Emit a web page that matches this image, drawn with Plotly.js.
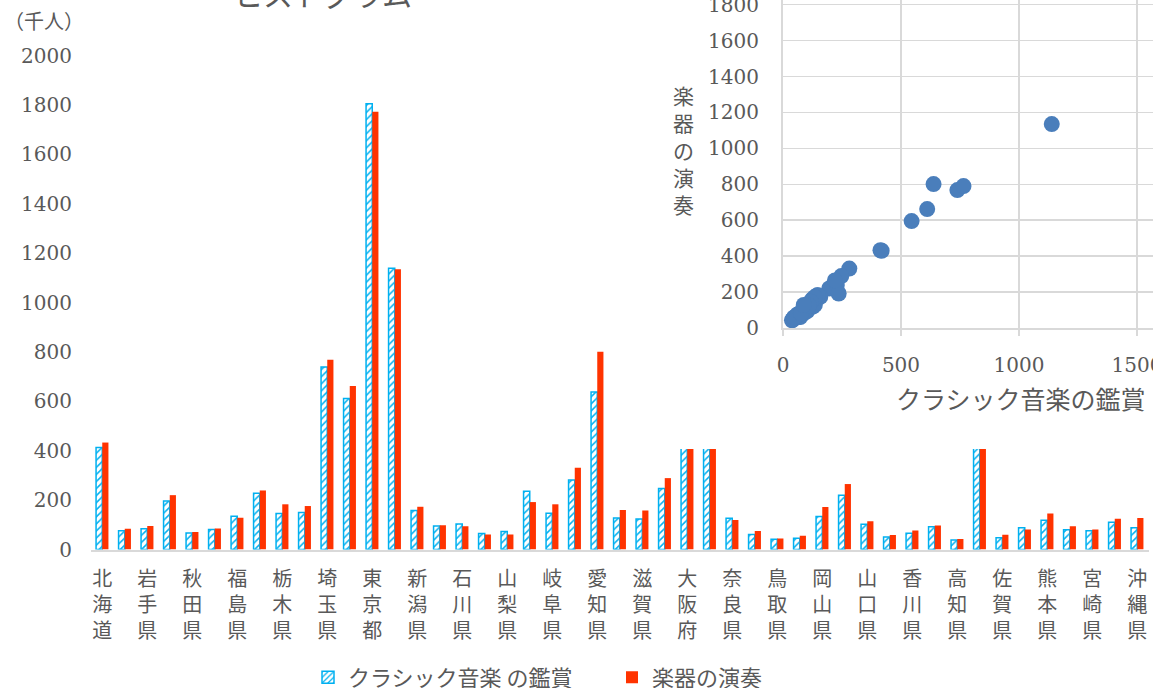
<!DOCTYPE html>
<html>
<head>
<meta charset="utf-8">
<script src="https://cdn.plot.ly/plotly-3.0.1.min.js"></script>
<style>html,body{margin:0;padding:0;background:#fff;}#chart{width:1153px;height:688px;}</style>
</head>
<body>
<div id="chart"></div>
<script>
// ---- data ----
const prefectures = ["北海道","青森県","岩手県","宮城県","秋田県","山形県","福島県","茨城県","栃木県","群馬県",
  "埼玉県","千葉県","東京都","神奈川県","新潟県","富山県","石川県","福井県","山梨県","長野県",
  "岐阜県","静岡県","愛知県","三重県","滋賀県","京都府","大阪府","兵庫県","奈良県","和歌山県",
  "鳥取県","島根県","岡山県","広島県","山口県","徳島県","香川県","愛媛県","高知県","福岡県",
  "佐賀県","長崎県","熊本県","大分県","宮崎県","鹿児島県","沖縄県"];
const classical = [413,76,84,196,67,81,135,228,146,150,
  739,611,1805,1139,158,95,103,65,73,236,
  147,281,638,128,123,247,765,545,127,61,
  41,46,134,220,102,51,66,92,38,418,
  48,88,118,80,76,110,88];
const instrument = [433,84,95,220,71,85,129,239,183,176,
  768,662,1772,1135,173,98,94,61,61,192,
  183,331,801,160,158,289,790,595,119,75,
  45,56,172,265,114,59,77,97,43,430,
  60,81,146,94,81,124,128];
const seriesNames = ["クラシック音楽 の鑑賞", "楽器の演奏"];
const labeledPrefs = prefectures.filter((p, i) => i % 2 === 0);
const tickText = labeledPrefs.map(p => p.split("").join("<br>"));
const mainTitle = "ヒストグラム";
const unitLabel = "（千人）";
const scatterXTitle = "クラシック音楽の鑑賞";
const scatterYTitle = "楽器の演奏";

// ---- helpers (pixel -> paper) ----
const W = 1153, H = 688;
const px = p => p / W;
const py = p => (H - p) / H;

const GREY = "#595959";
const GRID = "#D9D9D9";
const NUMFONT = "'DejaVu Serif', 'Liberation Serif', serif";
const JPFONT = "'Noto Sans CJK JP', sans-serif";
const CYAN = "#00B0F0";
const RED = "#FF3300";

const traces = [
  {
    type: "bar", name: seriesNames[0], x: prefectures, y: classical,
    xaxis: "x", yaxis: "y",
    marker: {
      color: CYAN,
      line: {color: CYAN, width: 1.5},
      pattern: {shape: "/", fgcolor: CYAN, bgcolor: "white", size: 5, solidity: 0.3, fillmode: "replace"}
    }
  },
  {
    type: "bar", name: seriesNames[1], x: prefectures, y: instrument,
    xaxis: "x", yaxis: "y",
    marker: {color: RED, line: {width: 0}}
  },
  // cover panel for inset chart area
  {
    type: "scatter", mode: "markers", x: [0], y: [0], xaxis: "x2", yaxis: "y2",
    marker: {opacity: 0}, showlegend: false, hoverinfo: "skip"
  },
  {
    type: "scatter", mode: "markers", x: classical, y: instrument, xaxis: "x3", yaxis: "y3",
    marker: {color: "#4A7EBB", size: 16, line: {width: 0}}, showlegend: false
  }
];

const layout = {
  width: W, height: H,
  margin: {l: 0, r: 0, t: 0, b: 0, autoexpand: false},
  paper_bgcolor: "white", plot_bgcolor: "white",
  font: {family: JPFONT, color: GREY},
  barmode: "group", bargap: 0.45, bargroupgap: 0,
  showlegend: true,
  legend: {
    orientation: "h", x: px(308), xanchor: "left", y: py(677.5), yanchor: "middle",
    font: {size: 22, family: JPFONT, color: GREY}, bgcolor: "rgba(0,0,0,0)", traceorder: "normal",
    entrywidth: 259, entrywidthmode: "pixels"
  },
  xaxis: {
    domain: [px(91), px(1148.5)], anchor: "y", type: "category",
    range: [-0.5, 46.5],
    tickmode: "array", tickvals: labeledPrefs, ticktext: tickText,
    tickfont: {size: 20, family: JPFONT, color: GREY},
    ticks: "", showgrid: false, zeroline: false,
    showline: true, linecolor: GRID, linewidth: 2,
    ticklabelstandoff: 10, tickangle: 0
  },
  yaxis: {
    domain: [py(549.5), py(55.5)], anchor: "x",
    range: [0, 2000], tickmode: "linear", tick0: 0, dtick: 200,
    showgrid: false, zeroline: false, showline: false, ticks: "",
    tickfont: {size: 20, family: NUMFONT, color: GREY},
    ticklabelstandoff: 18, ticklabeloverflow: "allow"
  },
  xaxis2: {domain: [px(655), 1], anchor: "y2", visible: false, range: [0, 1]},
  yaxis2: {domain: [py(449), 1], anchor: "x2", visible: false, range: [0, 1]},
  xaxis3: {
    domain: [px(783), 1], anchor: "y3",
    range: [0, 1568], tickmode: "linear", tick0: 0, dtick: 500,
    showgrid: true, gridcolor: GRID, gridwidth: 1.5,
    zeroline: false, showline: true, linecolor: GRID, linewidth: 2,
    ticks: "outside", ticklen: 6, tickcolor: GRID, tickwidth: 1.5,
    tickfont: {size: 20, family: NUMFONT, color: GREY},
    ticklabelstandoff: 12, ticklabeloverflow: "allow"
  },
  yaxis3: {
    domain: [py(328), 1], anchor: "x3",
    range: [0, 1826], tickmode: "linear", tick0: 0, dtick: 200,
    showgrid: true, gridcolor: GRID, gridwidth: 1.5,
    zeroline: false, showline: true, linecolor: GRID, linewidth: 2,
    ticks: "",
    tickfont: {size: 20, family: NUMFONT, color: GREY},
    ticklabelstandoff: 18, ticklabeloverflow: "allow"
  },
  annotations: [
    {text: mainTitle, xref: "paper", yref: "paper", x: px(322), y: 1, xanchor: "center", yanchor: "bottom",
     yshift: -17, showarrow: false, font: {size: 30, family: JPFONT, color: GREY}},
    {text: unitLabel, xref: "paper", yref: "paper", x: px(2), y: py(20), xanchor: "left", yanchor: "middle",
     showarrow: false, font: {size: 20, family: JPFONT, color: GREY}},
    {text: scatterYTitle.split("").join("<br>"), xref: "paper", yref: "paper", x: px(683), y: py(149),
     xanchor: "center", yanchor: "middle", showarrow: false, font: {size: 21, family: JPFONT, color: GREY}},
    {text: scatterXTitle, xref: "paper", yref: "paper", x: px(1021), y: py(398),
     xanchor: "center", yanchor: "middle", showarrow: false, font: {size: 25, family: JPFONT, color: GREY}}
  ]
};

Plotly.newPlot("chart", traces, layout, {staticPlot: true, displayModeBar: false});
</script>
</body>
</html>
